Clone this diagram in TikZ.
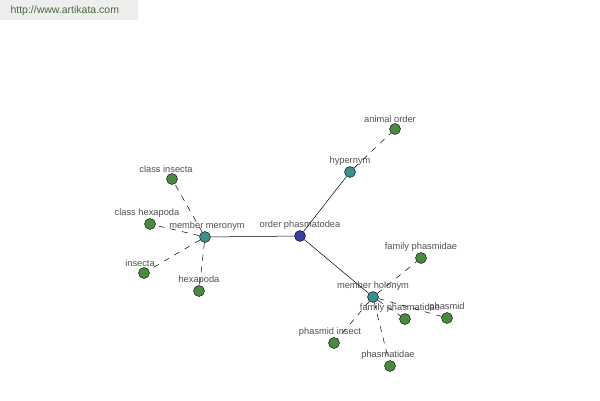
\documentclass[tikz,border=0pt]{standalone}
\usepackage{fontspec}
\setmainfont{Liberation Sans}
\usepackage{tikz}
\definecolor{leafgreen}{HTML}{4A8A40}
\definecolor{relteal}{HTML}{3A9090}
\definecolor{rootblue}{HTML}{3C3CA0}
\definecolor{labelgray}{HTML}{505050}
\definecolor{headgray}{HTML}{EEEEEE}
\definecolor{headtext}{HTML}{4A6A3A}
\tikzset{
  word/.style={circle, draw=black, line width=0.4pt, minimum size=11pt, inner sep=0pt},
  leaf/.style={word, fill=leafgreen},
  rel/.style={word, fill=relteal},
  root/.style={word, fill=rootblue},
  lbl/.style={font=\fontsize{9.3}{10}\selectfont, text=labelgray, inner sep=0pt},
  link/.style={line width=0.5pt},
  sublink/.style={line width=0.5pt, dash pattern=on 6pt off 6pt},
}
\begin{document}
\begin{tikzpicture}[x=1pt, y=-1pt, label distance=0.3pt]
      \useasboundingbox (0,0) rectangle (600,400);
      \fill[headgray] (0,0) rectangle (138,20);
      \node[font=\fontsize{10.5}{11}\selectfont, text=headtext, anchor=west] (site) at (7,10.5) {http://www.artikata.com};
      % centre and relations
      \node[root, label={[lbl]above:order phasmatodea}] (root) at (300, 236) {};
      \node[rel, label={[lbl,xshift=2pt]above:member meronym}] (mero) at (205, 237) {};
      \node[rel, label={[lbl]above:hypernym}] (hyper) at (350, 172) {};
      \node[rel, label={[lbl]above:member holonym}] (holo) at (373, 297) {};
      % words
      \node[leaf, label={[lbl,xshift=-5pt]above:animal order}] (v0) at (395, 129) {};
      \node[leaf, label={[lbl,xshift=-6pt]above:class insecta}] (v10) at (172, 179) {};
      \node[leaf, label={[lbl,xshift=-3pt]above:class hexapoda}] (v11) at (150, 224) {};
      \node[leaf, label={[lbl,xshift=-4pt]above:insecta}] (v12) at (144, 273) {};
      \node[leaf, label={[lbl]above:hexapoda}] (v13) at (199, 291) {};
      \node[leaf, label={[lbl]above:family phasmidae}] (v20) at (421, 258) {};
      \node[leaf, label={[lbl,xshift=-5pt]above:family phasmatidae}] (v21) at (405, 319) {};
      \node[leaf, label={[lbl]above:phasmid}] (v22) at (447, 318) {};
      \node[leaf, label={[lbl,xshift=-4pt]above:phasmid insect}] (v23) at (334, 343) {};
      \node[leaf, label={[lbl,xshift=-2pt]above:phasmatidae}] (v24) at (390, 366) {};
      \draw[link] (root) -- (mero);
      \draw[link] (root) -- (hyper);
      \draw[link] (root) -- (holo);
      \draw[sublink] (hyper) -- (v0);
      \draw[sublink] (mero) -- (v10);
      \draw[sublink] (mero) -- (v11);
      \draw[sublink] (mero) -- (v12);
      \draw[sublink] (mero) -- (v13);
      \draw[sublink] (holo) -- (v20);
      \draw[sublink] (holo) -- (v21);
      \draw[sublink] (holo) -- (v22);
      \draw[sublink] (holo) -- (v23);
      \draw[sublink] (holo) -- (v24);
\end{tikzpicture}
\end{document}
